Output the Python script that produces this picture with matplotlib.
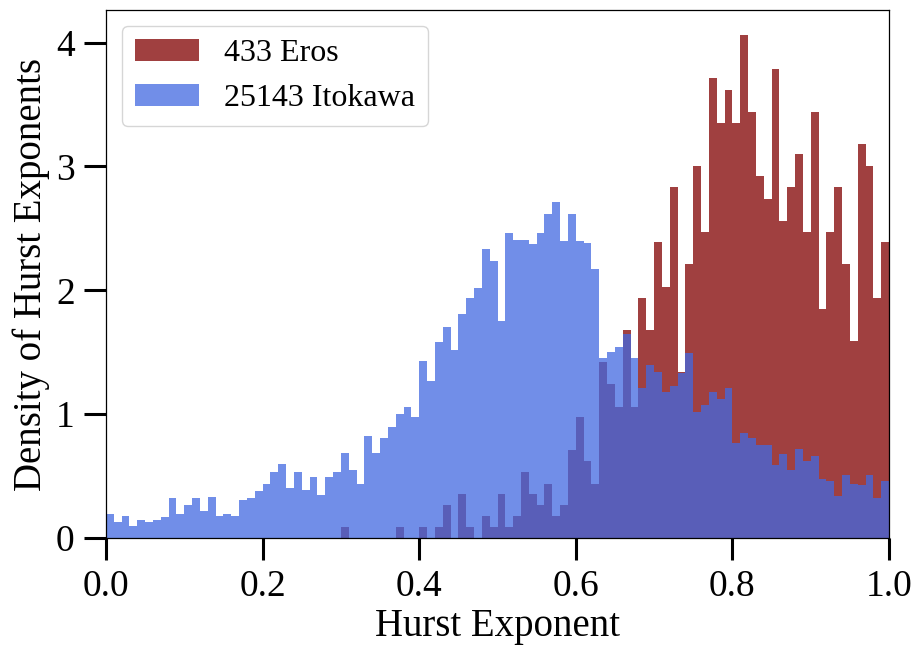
import numpy as np
import matplotlib
matplotlib.use("Agg")
import matplotlib.pyplot as plt

plt.rcParams['font.family'] = ['Liberation Serif', 'DejaVu Serif']

# density per bin (100 bins of width 0.01 between 0 and 1)
eros_density = [
    0, 0, 0, 0, 0, 0, 0, 0, 0, 0,
    0, 0, 0, 0, 0, 0, 0, 0, 0, 0,
    0, 0, 0, 0, 0, 0, 0, 0, 0, 0,
    0.09, 0, 0, 0, 0, 0, 0, 0.09, 0, 0,
    0.09, 0, 0.09, 0.27, 0, 0.355, 0.09, 0, 0.18, 0.09,
    0.355, 0.09, 0.18, 0.53, 0.355, 0.27, 0.44, 0.18, 0.27, 0.71,
    0.98, 0.62, 0.44, 1.42, 1.24, 1.06, 1.68, 1.06, 1.94, 1.68,
    2.39, 2.03, 2.83, 1.34, 2.21, 3.00, 2.47, 3.71, 3.35, 3.62,
    3.35, 4.06, 3.44, 2.92, 2.74, 3.79, 2.56, 2.83, 3.10, 2.47,
    3.44, 1.85, 2.47, 2.83, 2.21, 1.59, 3.18, 3.00, 1.94, 2.39,
]

itokawa_density = [
    0.19, 0.13, 0.18, 0.10, 0.145, 0.13, 0.145, 0.17, 0.32, 0.19,
    0.27, 0.32, 0.22, 0.33, 0.18, 0.19, 0.18, 0.31, 0.32, 0.38,
    0.44, 0.53, 0.60, 0.40, 0.53, 0.39, 0.49, 0.35, 0.49, 0.53,
    0.69, 0.55, 0.44, 0.82, 0.69, 0.81, 0.90, 1.00, 1.06, 0.98,
    1.43, 1.27, 1.58, 1.70, 1.52, 1.81, 1.94, 2.02, 2.33, 2.24,
    1.75, 2.46, 2.41, 2.41, 2.37, 2.46, 2.62, 2.71, 2.40, 2.62,
    2.40, 2.38, 2.17, 1.45, 1.50, 1.54, 1.65, 1.45, 1.21, 1.40,
    1.34, 1.18, 1.23, 1.33, 1.49, 1.02, 1.07, 1.18, 1.12, 1.21,
    0.77, 0.85, 0.81, 0.75, 0.75, 0.59, 0.68, 0.55, 0.72, 0.62,
    0.66, 0.48, 0.46, 0.34, 0.51, 0.44, 0.43, 0.51, 0.32, 0.46,
]

labels = ['433 Eros', '25143 Itokawa']
n_bins = 100

edges = np.linspace(0, 1, n_bins + 1)
centers = (edges[:-1] + edges[1:]) / 2

fig = plt.figure(figsize=(9.19, 6.49), dpi=100)
ax = fig.add_axes([0.1153, 0.171, 0.8521, 0.8136])

ax.hist(centers, bins=edges, weights=eros_density, color='maroon',
        alpha=0.75, label=labels[0])
ax.hist(centers, bins=edges, weights=itokawa_density, color='royalblue',
        alpha=0.75, label=labels[1])

ax.set_xlim(0, 1)
ax.set_xticks([0.0, 0.2, 0.4, 0.6, 0.8, 1.0])
ax.set_yticks([0, 1, 2, 3, 4])
ax.tick_params(axis='both', direction='out', length=15.5, width=2.2,
               labelsize=27, pad=7)
for s in ax.spines.values():
    s.set_linewidth(0.9)

ax.set_xlabel('Hurst Exponent', fontsize=28, labelpad=3)
ax.set_ylabel('Density of Hurst Exponents', fontsize=28, labelpad=4)
ax.legend(loc='upper left', fontsize=23)

fig.savefig('out.png', dpi=100)
